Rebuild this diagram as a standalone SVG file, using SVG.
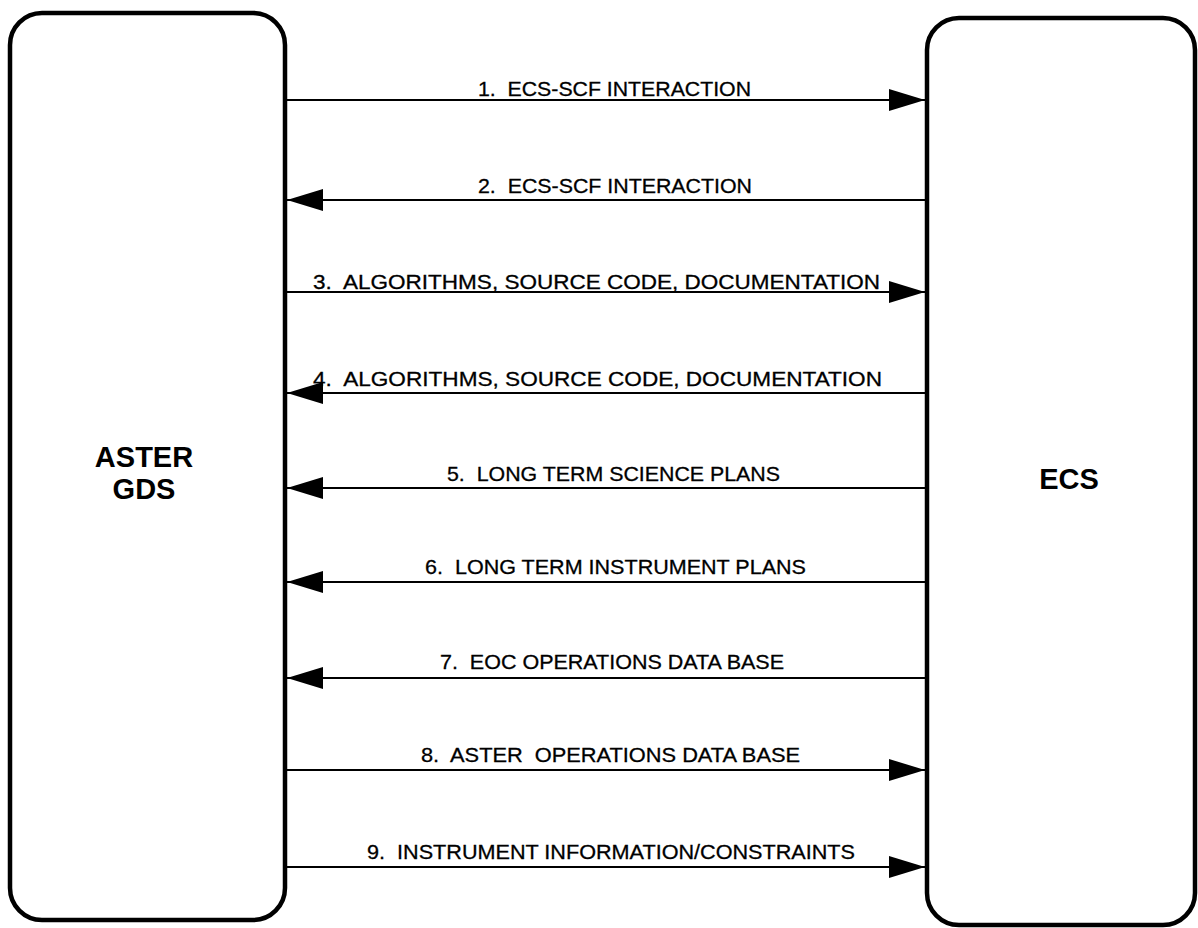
<svg xmlns="http://www.w3.org/2000/svg" width="1198" height="928" viewBox="0 0 1198 928">
<style>
.box{fill:#fff;stroke:#000;stroke-width:4.5}
.ln{stroke:#000;stroke-width:2;fill:none;marker-end:url(#ah)}
.lbl{font-family:"Liberation Sans",Arial,sans-serif;font-size:21px;fill:#000;stroke:#000;stroke-width:0.3}
.big{font-family:"Liberation Sans",Arial,sans-serif;font-size:29px;font-weight:bold;fill:#000;text-anchor:middle}
</style>
<defs>
<marker id="ah" markerUnits="userSpaceOnUse" markerWidth="36" markerHeight="22" refX="36" refY="11" orient="auto" viewBox="0 0 36 22">
<path d="M0,0 L36,11 L0,22 z" fill="#000"/>
</marker>
</defs>
<rect width="1198" height="928" fill="#fff"/>
<g id="aster-gds">
<rect class="box" x="10" y="13" width="275" height="907" rx="32" ry="32"/>
<text class="big" x="144" y="467">ASTER</text>
<text class="big" x="144" y="499">GDS</text>
</g>
<g id="ecs">
<rect class="box" x="927" y="18" width="268" height="907" rx="32" ry="32"/>
<text class="big" x="1069" y="489">ECS</text>
</g>
<g id="connectors">
<line class="ln" x1="287" y1="100" x2="925" y2="100"/>
<line class="ln" x1="925" y1="200" x2="287" y2="200"/>
<line class="ln" x1="287" y1="292" x2="925" y2="292"/>
<line class="ln" x1="925" y1="393" x2="287" y2="393"/>
<line class="ln" x1="925" y1="488" x2="287" y2="488"/>
<line class="ln" x1="925" y1="582" x2="287" y2="582"/>
<line class="ln" x1="925" y1="678" x2="287" y2="678"/>
<line class="ln" x1="287" y1="770" x2="925" y2="770"/>
<line class="ln" x1="287" y1="867" x2="925" y2="867"/>
<text class="lbl" x="478" y="96" textLength="273" lengthAdjust="spacingAndGlyphs" xml:space="preserve">1.  ECS-SCF INTERACTION</text>
<text class="lbl" x="478" y="193" textLength="274" lengthAdjust="spacingAndGlyphs" xml:space="preserve">2.  ECS-SCF INTERACTION</text>
<text class="lbl" x="313" y="289" textLength="567" lengthAdjust="spacingAndGlyphs" xml:space="preserve">3.  ALGORITHMS, SOURCE CODE, DOCUMENTATION</text>
<text class="lbl" x="313" y="386" textLength="569" lengthAdjust="spacingAndGlyphs" xml:space="preserve">4.  ALGORITHMS, SOURCE CODE, DOCUMENTATION</text>
<text class="lbl" x="447" y="481" textLength="333" lengthAdjust="spacingAndGlyphs" xml:space="preserve">5.  LONG TERM SCIENCE PLANS</text>
<text class="lbl" x="425" y="574" textLength="381" lengthAdjust="spacingAndGlyphs" xml:space="preserve">6.  LONG TERM INSTRUMENT PLANS</text>
<text class="lbl" x="440" y="669" textLength="344" lengthAdjust="spacingAndGlyphs" xml:space="preserve">7.  EOC OPERATIONS DATA BASE</text>
<text class="lbl" x="421" y="762" textLength="379" lengthAdjust="spacingAndGlyphs" xml:space="preserve">8.  ASTER  OPERATIONS DATA BASE</text>
<text class="lbl" x="367" y="859" textLength="488" lengthAdjust="spacingAndGlyphs" xml:space="preserve">9.  INSTRUMENT INFORMATION/CONSTRAINTS</text>
</g>
</svg>
